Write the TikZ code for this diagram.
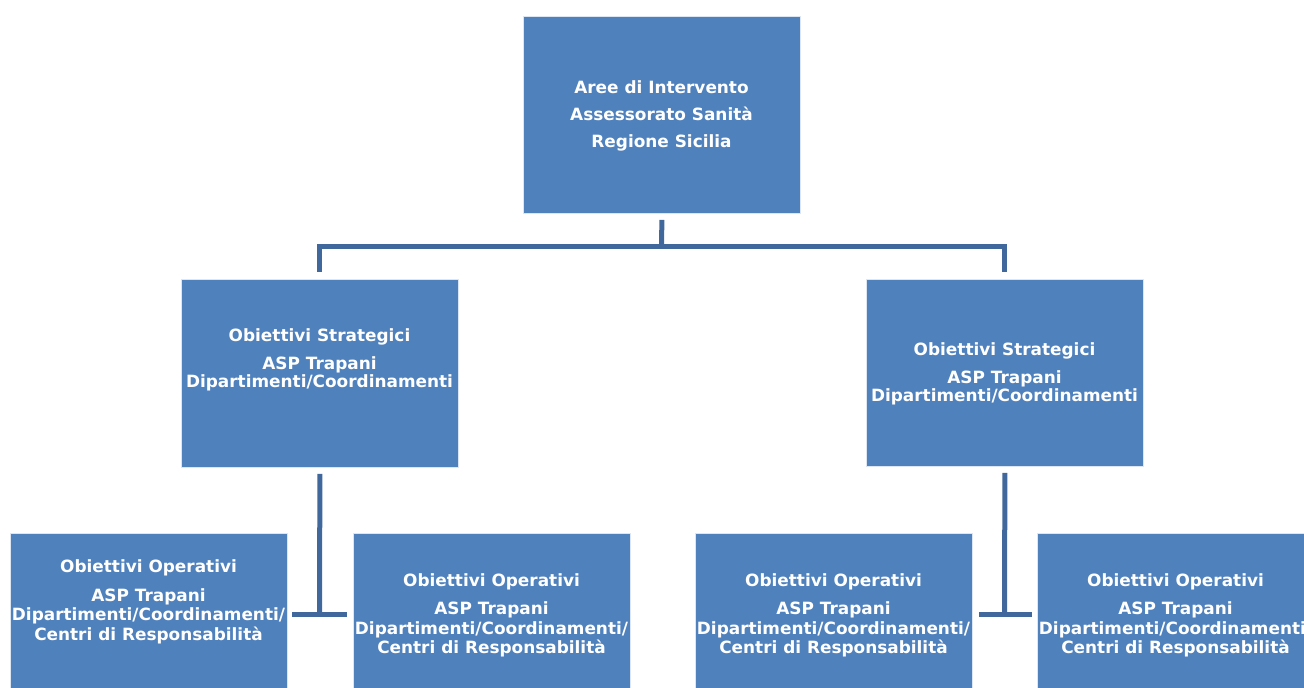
\documentclass[tikz,border=0pt]{standalone}
\usepackage{fontspec}
\setmainfont{DejaVu Sans}
\definecolor{boxblue}{HTML}{4F81BD}
\definecolor{connblue}{HTML}{41689C}
\begin{document}
\begin{tikzpicture}[x=1pt,y=-1pt,
  box/.style={draw=white!80!boxblue, line width=0.8pt, fill=boxblue,
    minimum width=277pt, inner sep=0pt, anchor=north west},
  txt/.style={text=white, font=\bfseries, align=center, inner sep=0pt, anchor=north},
  conn/.style={draw=connblue, line width=5pt}]
\useasboundingbox (0,0) rectangle (1304,688);
\clip (0,0) rectangle (1304,688);
% boxes
\node[box, minimum height=197pt] (top) at (523,16) {};
\node[box, minimum height=188pt] (ml) at (181,279) {};
\node[box, minimum height=187pt] (mr) at (866,279) {};
\node[box, minimum height=175pt] (bl1) at (10,533) {};
\node[box, minimum height=175pt] (bl2) at (353,533) {};
\node[box, minimum height=175pt] (br1) at (695,533) {};
\node[box, minimum height=175pt] (br2) at (1037,533) {};
% texts
\node[txt, font=\bfseries\fontsize{16.9}{27}\selectfont] (ttop) at (661.5,80)
  {Aree di Intervento\\Assessorato Sanità\\Regione Sicilia};
\node[txt, font=\bfseries\fontsize{16.9}{18.5}\selectfont] (tml) at (319.5,328)
  {Obiettivi Strategici\\[9.5pt]ASP Trapani\\Dipartimenti/Coordinamenti};
\node[txt, font=\bfseries\fontsize{16.9}{18.5}\selectfont] (tmr) at (1004.5,342)
  {Obiettivi Strategici\\[9.5pt]ASP Trapani\\Dipartimenti/Coordinamenti};
\node[txt, font=\bfseries\fontsize{16.9}{19.5}\selectfont] (tbl1) at (148.5,559.5)
  {Obiettivi Operativi\\[9pt]ASP Trapani\\Dipartimenti/Coordinamenti/\\Centri di Responsabilità};
\node[txt, font=\bfseries\fontsize{16.9}{19.5}\selectfont] (tbl2) at (491.5,573)
  {Obiettivi Operativi\\[9pt]ASP Trapani\\Dipartimenti/Coordinamenti/\\Centri di Responsabilità};
\node[txt, font=\bfseries\fontsize{16.9}{19.5}\selectfont] (tbr1) at (833.5,573)
  {Obiettivi Operativi\\[9pt]ASP Trapani\\Dipartimenti/Coordinamenti/\\Centri di Responsabilità};
\node[txt, font=\bfseries\fontsize{16.9}{19.5}\selectfont] (tbr2) at (1175.5,573)
  {Obiettivi Operativi\\[9pt]ASP Trapani\\Dipartimenti/Coordinamenti/\\Centri di Responsabilità};
% connectors
\coordinate (hub) at (661.5,246);
\coordinate (jl) at (319.5,614);
\coordinate (jr) at (1004.5,614);
\draw[conn] ([yshift=-6pt]top.south) -- (hub);
\draw[conn] ([yshift=7pt]ml.north) |- (hub) -| ([yshift=7pt]mr.north);
\draw[conn] ([yshift=-6pt]ml.south) -- (jl);
\draw[conn] ([yshift=-6pt]mr.south) -- (jr);
\draw[conn] ([xshift=4pt]bl1.east |- jl) -- ([xshift=-6pt]bl2.west |- jl);
\draw[conn] ([xshift=6pt]br1.east |- jr) -- ([xshift=-5pt]br2.west |- jr);
\end{tikzpicture}
\end{document}
